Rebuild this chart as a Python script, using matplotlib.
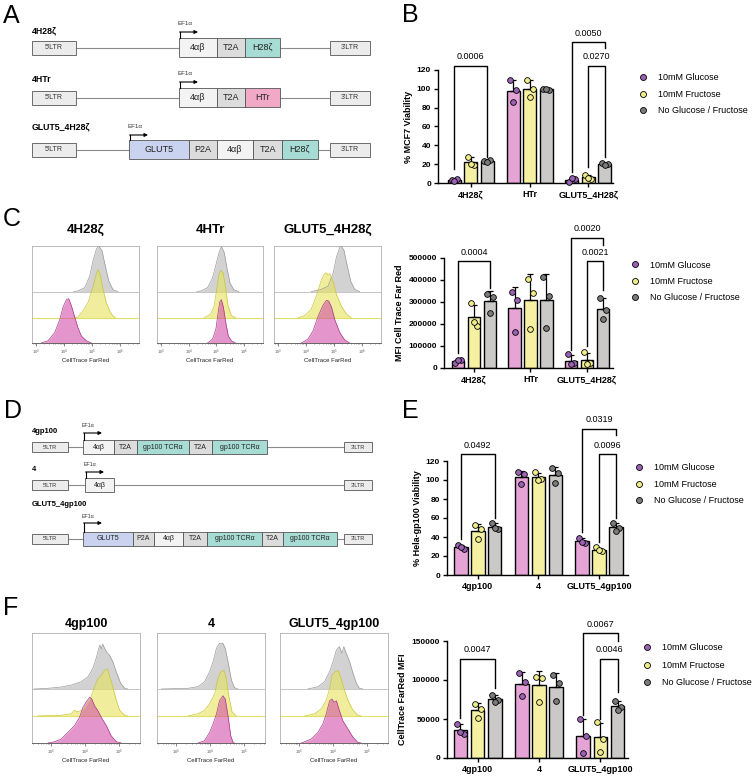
import numpy as np
import matplotlib
matplotlib.use('Agg')
import matplotlib.pyplot as plt
from matplotlib.patches import Rectangle
from matplotlib.lines import Line2D

plt.rcParams['font.family'] = ['Liberation Sans', 'DejaVu Sans']

# ---- bar chart data (3 replicates per bar) ----
conditions = ['10mM Glucose', '10mM Fructose', 'No Glucose / Fructose']

B_groups = ['4H28ζ', 'HTr', 'GLUT5_4H28ζ']
B_glu = [[3, 4, 2], [109, 99, 86], [1, 4, 5]]
B_fru = [[28, 19, 20], [109, 100, 91], [9, 4, 5]]
B_none = [[23, 24, 22], [100, 99, 100], [21, 20, 19]]
B_sig = [(0, 0, 2, 124, 15, 28, 134, '0.0006'),
         (2, 0, 2, 150, 12, 143, 159, '0.0050'),
         (2, 1, 2, 124, 17, 28, 134, '0.0270')]

C_groups = ['4H28ζ', 'HTr', 'GLUT5_4H28ζ']
C_glu = [[22000, 35000, 38000], [344000, 311000, 162000], [62000, 22000, 18000]]
C_fru = [[295000, 190000, 210000], [405000, 341000, 177000], [71000, 23000, 20000]]
C_none = [[335000, 322000, 250000], [414000, 329000, 180000], [318000, 265000, 223000]]
C_sig = [(0, 0, 2, 485000, 68000, 364000, 526000, '0.0004'),
         (2, 0, 2, 591000, 83000, 560000, 632000, '0.0020'),
         (2, 1, 2, 485000, 98000, 356000, 526000, '0.0021')]

E_groups = ['4gp100', '4', 'GLUT5_4gp100']
E_glu = [[32, 27, 29], [108, 106, 96], [39, 34, 35]]
E_fru = [[53, 48, 38], [108, 101, 100], [29, 25, 26]]
E_none = [[55, 48, 49], [113, 107, 97], [55, 50, 46]]
E_sig = [(0, 0, 2, 127, 38, 60, 136.5, '0.0492'),
         (2, 0, 2, 154, 45, 147, 164, '0.0319'),
         (2, 1, 2, 127, 35, 60, 136.5, '0.0096')]

F_groups = ['4gp100', '4', 'GLUT5_4gp100']
F_glu = [[44000, 31000, 33000], [109000, 97000, 80000], [50000, 28000, 6000]]
F_fru = [[69000, 63000, 51000], [104000, 103000, 72000], [46000, 25000, 8000]]
F_none = [[81000, 74000, 72000], [106000, 96000, 73000], [73000, 65000, 61000]]
F_sig = [(0, 0, 2, 127000, 51000, 90000, 139000, '0.0047'),
         (2, 0, 2, 160000, 55000, 150000, 171000, '0.0067'),
         (2, 1, 2, 127000, 50000, 85000, 139000, '0.0046')]

# ---- flow histograms: log10 CellTrace FarRed vs. height ----
c1_gray_x = [4.35, 4.50, 4.74, 4.92, 5.04, 5.16, 5.25, 5.36, 5.48, 5.60, 5.75, 5.93]
c1_gray_h = [0, 0.7, 4, 16, 32, 44, 47, 42, 26, 11, 2, 0]
c1_yel_x = [4.40, 4.50, 4.68, 4.86, 5.04, 5.16, 5.22, 5.28, 5.40, 5.51, 5.63, 5.75, 5.84]
c1_yel_h = [0, 0.7, 7.3, 15.7, 32.3, 45.7, 49.7, 45.7, 29, 15.7, 7.3, 1.7, 0]
c1_pink_x = [3.19, 3.43, 3.67, 3.85, 3.97, 4.09, 4.17, 4.26, 4.38, 4.50, 4.62, 4.80, 4.98]
c1_pink_h = [0, 2.3, 10.7, 24, 37.3, 44.7, 45.7, 39, 27.3, 15.7, 7.3, 2.3, 0]

c2_gray_x = [4.30, 4.44, 4.68, 4.86, 4.98, 5.10, 5.18, 5.28, 5.37, 5.49, 5.63, 5.81]
c2_gray_h = [0, 0.7, 4, 14, 27.3, 40.7, 46.3, 40.7, 25.7, 9, 1.7, 0]
c2_yel_x = [4.56, 4.80, 4.92, 5.01, 5.10, 5.16, 5.25, 5.34, 5.42, 5.54, 5.69]
c2_yel_h = [0, 4, 12.3, 29, 45.7, 49, 45.7, 29, 12.3, 2.3, 0]
c2_pink_x = [4.68, 4.86, 4.98, 5.06, 5.12, 5.18, 5.25, 5.34, 5.43, 5.54, 5.69]
c2_pink_h = [0, 4, 14, 30.7, 42.3, 44.7, 37.3, 20.7, 7.3, 2.3, 0]

c3_gray_x = [4.19, 4.55, 4.79, 4.97, 5.09, 5.21, 5.26, 5.36, 5.48, 5.60, 5.74, 5.92]
c3_gray_h = [0, 2.3, 5.7, 19, 35.7, 45.7, 47.3, 42.3, 25.7, 10.7, 2.3, 0]
c3_yel_x = [3.72, 3.96, 4.19, 4.37, 4.55, 4.67, 4.73, 4.79, 4.85, 4.97, 5.09, 5.26, 5.44, 5.62]
c3_yel_h = [0, 2.3, 9, 22.3, 39, 45.7, 46.3, 44, 45.7, 37.3, 24, 12.3, 4, 0]
c3_pink_x = [3.84, 4.07, 4.25, 4.43, 4.61, 4.73, 4.81, 4.91, 5.03, 5.21, 5.38, 5.56]
c3_pink_h = [0, 4, 12.3, 27.3, 39, 44, 43.3, 37.3, 24, 10.7, 3.3, 0]

f1_gray_x = [2.50, 2.91, 3.30, 3.60, 3.89, 4.09, 4.23, 4.33, 4.40, 4.44, 4.48, 4.52, 4.56, 4.63, 4.72, 4.82, 4.92, 5.05, 5.17, 5.26]
f1_gray_h = [0, 0.7, 2, 4, 7.3, 12.3, 20.7, 30.7, 40, 44, 40, 45, 42, 37.3, 34, 27.3, 17.3, 5.7, 0.7, 0]
f1_yel_x = [2.60, 3.30, 3.60, 3.69, 3.79, 3.99, 4.14, 4.26, 4.38, 4.48, 4.58, 4.66, 4.72, 4.82, 4.92, 5.02, 5.17, 5.26]
f1_yel_h = [0, 0.7, 2.3, 5.7, 4, 7.3, 15.7, 27.3, 37.3, 40.7, 45.7, 47.3, 40.7, 29, 15.7, 5.7, 0.7, 0]
f1_pink_x = [2.91, 3.11, 3.30, 3.50, 3.69, 3.84, 3.94, 4.04, 4.14, 4.20, 4.28, 4.38, 4.48, 4.63, 4.77, 4.92, 5.07]
f1_pink_h = [0, 1.3, 4, 10.7, 17.3, 25.7, 35.7, 41.3, 45.7, 44, 37.3, 32.3, 25.7, 17.3, 7.3, 1.3, 0]

f2_gray_x = [2.57, 3.35, 3.65, 3.84, 3.99, 4.09, 4.19, 4.28, 4.38, 4.45, 4.53, 4.63, 4.72, 4.82]
f2_gray_h = [0, 0.7, 2.3, 7.3, 17.3, 27.3, 40.7, 45.7, 45.7, 40.7, 27.3, 9, 1.3, 0]
f2_yel_x = [3.35, 3.65, 3.84, 3.99, 4.14, 4.23, 4.31, 4.41, 4.48, 4.55, 4.65, 4.77]
f2_yel_h = [0, 2.3, 5.7, 12.3, 22.3, 37.3, 44, 45.7, 37.3, 20.7, 4, 0]
f2_pink_x = [3.65, 3.84, 3.99, 4.09, 4.19, 4.28, 4.38, 4.45, 4.53, 4.61, 4.68, 4.72]
f2_pink_h = [0, 2.3, 10.7, 19, 29, 42.3, 47.3, 44, 27.3, 7.3, 0.7, 0]

f3_gray_x = [3.26, 3.56, 3.75, 3.90, 4.00, 4.10, 4.19, 4.26, 4.32, 4.39, 4.49, 4.59, 4.69, 4.78, 4.88]
f3_gray_h = [0, 2.3, 7.3, 17.3, 27.3, 39, 42.3, 35.7, 42.3, 35.7, 27.3, 15.7, 5.7, 0.7, 0]
f3_yel_x = [3.17, 3.46, 3.66, 3.80, 3.90, 3.97, 4.05, 4.15, 4.24, 4.34, 4.44, 4.59, 4.73, 4.83]
f3_yel_h = [0, 2.3, 7.3, 15.7, 27.3, 40.7, 44, 45.7, 37.3, 25.7, 15.7, 5.7, 0.7, 0]
f3_pink_x = [3.07, 3.36, 3.56, 3.70, 3.80, 3.90, 3.97, 4.03, 4.10, 4.19, 4.29, 4.44, 4.59, 4.73, 4.83]
f3_pink_h = [0, 4, 10.7, 19, 29, 42.3, 44, 40.7, 42.3, 32.3, 22.3, 14, 5.7, 0.7, 0]

# ---- construct diagrams: (label, width, kind) ----
A_4H28z = [('4αβ', 38, 'w'), ('T2A', 28, 'g'), ('H28ζ', 35, 't')]
A_4HTr = [('4αβ', 38, 'w'), ('T2A', 28, 'g'), ('HTr', 35, 'p')]
A_GLUT5 = [('GLUT5', 60, 'b'), ('P2A', 28, 'g'), ('4αβ', 36, 'w'), ('T2A', 29, 'g'), ('H28ζ', 36, 't')]
D_4gp100 = [('4αβ', 31, 'w'), ('T2A', 23, 'g'), ('gp100 TCRα', 52, 't'), ('T2A', 23, 'g'), ('gp100 TCRα', 55, 't')]
D_4 = [('4αβ', 29, 'w')]
D_GLUT5 = [('GLUT5', 50, 'b'), ('P2A', 21, 'g'), ('4αβ', 29, 'w'), ('T2A', 24, 'g'),
           ('gp100 TCRα', 55, 't'), ('T2A', 21, 'g'), ('gp100 TCRα', 54, 't')]
seg_colors = {'w': '#f3f3f3', 'g': '#dcdcdc', 't': '#a7dcd5', 'p': '#f1a9c7', 'b': '#c9d2ee'}

bar_cols = ['#e6a4d6', '#f6f1a2', '#cbc8c8']
pt_cols = ['#9a62b2', '#efed8a', '#7b7b7b']

W, H = 756, 778
fig = plt.figure(figsize=(W / 100, H / 100), dpi=100)


def px_axes(x0, y0, x1, y1):
    return fig.add_axes([x0 / W, 1 - y1 / H, (x1 - x0) / W, (y1 - y0) / H])


ov = fig.add_axes([0, 0, 1, 1])
ov.set_xlim(0, W)
ov.set_ylim(H, 0)
ov.axis('off')

for letter, x, y in [('A', 3, 23), ('B', 402, 22), ('C', 3, 226), ('D', 4, 418), ('E', 402, 418), ('F', 3, 615)]:
    ov.text(x, y, letter, fontsize=18, va='baseline', ha='left')


def construct(yc, segs, xs, ltr5, ltr3, bh, lh, fs, fs_ltr, name, name_y, ef_y, ar_y, fs_name, fs_ef):
    ov.plot([ltr5[1], ltr3[0]], [yc, yc], color='#8a8a8a', lw=0.8, zorder=1)
    for (x0, x1), lab in [(ltr5, "5'LTR"), (ltr3, "3'LTR")]:
        ov.add_patch(Rectangle((x0, yc - lh / 2), x1 - x0, lh, fc='#ececec', ec='#555555', lw=0.6, zorder=2))
        ov.text((x0 + x1) / 2, yc, lab, fontsize=fs_ltr, ha='center', va='center', color='#333333', zorder=3)
    x = xs
    for lab, w, k in segs:
        ov.add_patch(Rectangle((x, yc - bh / 2), w, bh, fc=seg_colors[k], ec='#555555', lw=0.6, zorder=2))
        ov.text(x + w / 2, yc, lab, fontsize=fs, ha='center', va='center', color='#222222', zorder=3)
        x += w
    ov.text(ltr5[0], name_y, name, fontsize=fs_name, fontweight='bold', va='center', ha='left')
    ov.text(xs - 1, ef_y, 'EF1α', fontsize=fs_ef, va='center', ha='left', color='#333333')
    ov.plot([xs + 1, xs + 1], [yc - bh / 2, ar_y], color='black', lw=0.8)
    ov.annotate('', xy=(xs + 19, ar_y), xytext=(xs + 0.6, ar_y),
                arrowprops=dict(arrowstyle='-|>', lw=0.8, color='black', mutation_scale=5, shrinkA=0, shrinkB=0))


construct(47.5, A_4H28z, 179, (32, 76), (330, 370), 19, 14, 6.5, 5, '4H28ζ', 31, 23, 32, 6.3, 4.5)
construct(97.5, A_4HTr, 179, (32, 76), (330, 370), 19, 14, 6.5, 5, '4HTr', 79, 73, 82, 6.3, 4.5)
construct(149.5, A_GLUT5, 129, (32, 76), (330, 370), 19, 14, 6.5, 5, 'GLUT5_4H28ζ', 127, 126, 135, 6.3, 4.5)
construct(447, D_4gp100, 83, (32, 68), (344, 372), 14, 10, 5, 4, '4gp100', 431, 425, 433, 5.5, 3.8)
construct(485, D_4, 85, (32, 68), (344, 372), 14, 10, 5, 4, '4', 469, 464, 472, 5.5, 3.8)
construct(538.5, D_GLUT5, 83, (32, 68), (344, 372), 14, 10, 5, 4, 'GLUT5_4gp100', 504, 516, 523, 5.5, 3.8)


# ---- bar panels ----
def bar_panel(box, groups, glu, fru, none, ymax, ystep, ylabel, sig, leg_xy, xlim, leg_sp):
    ax = px_axes(*box)
    offs = [-0.28, 0.0, 0.28]
    jit = [-0.05, 0.05, 0.0]
    for ci, data in enumerate([glu, fru, none]):
        for gi, pts in enumerate(data):
            pts = np.array(pts, dtype=float)
            m, sd = pts.mean(), pts.std(ddof=1)
            x = gi + offs[ci]
            ax.bar(x, m, 0.22, color=bar_cols[ci], edgecolor='black', lw=1.0, zorder=2)
            ax.errorbar(x, m, yerr=[[0], [sd]], color='black', lw=0.9, capsize=2.2, capthick=0.9, zorder=3)
            ax.scatter(x + np.array(jit), pts, s=17, c=pt_cols[ci], edgecolors='black',
                       linewidths=0.6, zorder=4, clip_on=False)
    for gi, a, b, top, yl, yr, ty, lab in sig:
        x1, x2 = gi + offs[a], gi + offs[b]
        ax.plot([x1, x1, x2, x2], [yl, top, top, yr], color='black', lw=1.0, clip_on=False)
        ax.text((x1 + x2) / 2, ty, lab, ha='center', va='center', fontsize=6.5)
    ax.set_xlim(*xlim)
    ax.set_ylim(0, ymax)
    ticks = np.arange(0, ymax + 1, ystep)
    ax.set_yticks(ticks)
    ax.set_yticklabels([str(int(t)) for t in ticks], fontweight='bold', fontsize=6)
    ax.set_xticks(range(len(groups)))
    ax.set_xticklabels(groups, fontweight='bold', fontsize=6.5)
    ax.tick_params(length=3, width=1.0, pad=2)
    for s in ['top', 'right']:
        ax.spines[s].set_visible(False)
    for s in ['left', 'bottom']:
        ax.spines[s].set_linewidth(1.0)
    ax.patch.set_alpha(0)
    ax.set_ylabel(ylabel, fontweight='bold', fontsize=6.5, labelpad=3)
    handles = [Line2D([], [], ls='', marker='o', ms=4.3, mfc=pt_cols[i], mec='black', mew=0.6) for i in range(3)]
    ax.legend(handles, conditions, loc='upper left', bbox_to_anchor=(leg_xy[0] / W, 1 - leg_xy[1] / H),
              bbox_transform=fig.transFigure, frameon=False, fontsize=6.5, handlelength=0.8,
              handletextpad=1.25, labelspacing=leg_sp, borderpad=0, borderaxespad=0)
    return ax


bar_panel((438, 70, 613, 183), B_groups, B_glu, B_fru, B_none, 120, 20, '% MCF7 Viability', B_sig,
          (639.5, 73.5), (-0.56, 2.42), 0.8)
bar_panel((444, 258, 613, 368), C_groups, C_glu, C_fru, C_none, 500000, 100000, 'MFI Cell Trace Far Red', C_sig,
          (631.5, 260.5), (-0.53, 2.46), 0.8)
bar_panel((447, 461, 628, 575), E_groups, E_glu, E_fru, E_none, 120, 20, '% Hela-gp100 Viability', E_sig,
          (635.5, 463.5), (-0.51, 2.48), 0.8)
bar_panel((447, 641, 628, 758), F_groups, F_glu, F_fru, F_none, 150000, 50000, 'CellTrace FarRed MFI', F_sig,
          (643.5, 643.5), (-0.5, 2.45), 0.92)


# ---- histogram panels ----
def hist_panel(box, curves, bases, ymax, xlog, title, title_dy, title_fs, xl_dy):
    ax = px_axes(*box)
    styles = [('#cdcdcd', '#9a9a9a', 0.9), ('#e6e35a', '#c9c535', 0.6), ('#d24aa8', '#a8388a', 0.58)]
    ax.axhline(bases[0], color='#bbbbbb', lw=0.6, zorder=1)
    ax.axhline(bases[1], color='#e2df6a', lw=0.8, zorder=1)
    for (lx, h), base, (fc, ec, al) in zip(curves, bases, styles):
        x = 10 ** np.array(lx)
        y = base + np.array(h)
        ax.fill_between(x, base, y, color=fc, alpha=al, lw=0, zorder=2)
        ax.plot(x, y, color=ec, lw=0.5, zorder=3)
    ax.set_xscale('log')
    ax.set_xlim(10 ** xlog[0], 10 ** xlog[1])
    ax.set_ylim(0, ymax)
    ax.set_yticks([])
    ax.tick_params(axis='x', which='major', length=2, width=0.5, labelsize=3, pad=1.5, colors='#555555')
    ax.tick_params(axis='x', which='minor', length=1, width=0.4, colors='#555555')
    for s in ax.spines.values():
        s.set_color('#b0b0b0')
        s.set_linewidth(0.6)
    ax.spines['bottom'].set_color('#555555')
    hpx = box[3] - box[1]
    ax.text(0.5, 1 + title_dy / hpx, title, transform=ax.transAxes, ha='center', va='center',
            fontsize=title_fs, fontweight='bold')
    ax.text(0.5, -xl_dy / hpx, 'CellTrace FarRed', transform=ax.transAxes, ha='center', va='center',
            fontsize=4.3, color='#222222')
    return ax


hist_panel((32, 246, 139, 343), [(c1_gray_x, c1_gray_h), (c1_yel_x, c1_yel_h), (c1_pink_x, c1_pink_h)],
           [53, 26, 0], 100, (2.86, 6.68), '4H28ζ', 16, 9.5, 18)
hist_panel((157, 246, 263, 343), [(c2_gray_x, c2_gray_h), (c2_yel_x, c2_yel_h), (c2_pink_x, c2_pink_h)],
           [53, 26, 0], 100, (2.86, 6.68), '4HTr', 16, 9.5, 18)
hist_panel((274, 246, 381, 343), [(c3_gray_x, c3_gray_h), (c3_yel_x, c3_yel_h), (c3_pink_x, c3_pink_h)],
           [53, 26, 0], 100, (2.86, 6.68), 'GLUT5_4H28ζ', 16, 9.5, 18)
hist_panel((32, 633, 140, 743), [(f1_gray_x, f1_gray_h), (f1_yel_x, f1_yel_h), (f1_pink_x, f1_pink_h)],
           [54, 27, 0], 110, (2.44, 5.62), '4gp100', 9, 9, 17)
hist_panel((157, 633, 265, 743), [(f2_gray_x, f2_gray_h), (f2_yel_x, f2_yel_h), (f2_pink_x, f2_pink_h)],
           [54, 27, 0], 110, (2.44, 5.62), '4', 9, 9, 17)
hist_panel((280, 633, 388, 743), [(f3_gray_x, f3_gray_h), (f3_yel_x, f3_yel_h), (f3_pink_x, f3_pink_h)],
           [54, 27, 0], 110, (2.44, 5.62), 'GLUT5_4gp100', 9, 9, 17)

fig.savefig('out.png', dpi=100)
